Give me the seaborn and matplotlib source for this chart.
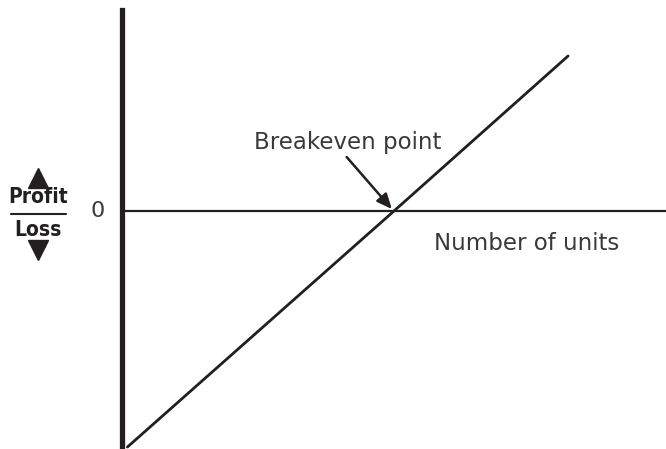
import matplotlib
matplotlib.use("Agg")
import matplotlib.pyplot as plt
import seaborn as sns
import pandas as pd
from matplotlib.lines import Line2D

# Data (arbitrary units: x = number of units, y = profit)
units = [1, 50, 82]
profit = [-236, 0, 155]
breakeven_x = 50
label_be = "Breakeven point"
label_x = "Number of units"
label_zero = "0"
label_profit = "Profit"
label_loss = "Loss"

sns.set_style("white")
plt.rcParams['font.family'] = ['DejaVu Sans']

W, H = 666, 449
fig = plt.figure(figsize=(W / 100, H / 100), dpi=100)
ax = fig.add_axes([122 / W, 0, 544 / W, 439 / H])
ax.set_xlim(0, 100)
ax.set_ylim(-238, 201)

df = pd.DataFrame({"units": units, "profit": profit})
sns.lineplot(data=df, x="units", y="profit", ax=ax, color="#231f20", linewidth=2.0)
ax.axhline(0, color="#231f20", linewidth=1.6)

for s in ["top", "right", "bottom"]:
    ax.spines[s].set_visible(False)
ax.spines["left"].set_linewidth(3.8)
ax.spines["left"].set_color("#231f20")
ax.set_xticks([])
ax.set_yticks([])
ax.set_xlabel("")
ax.set_ylabel("")

txt_color = "#3a3a3a"
ax.text(41.4, 68, label_be, ha="center", va="center", fontsize=16.5, color=txt_color)
ax.annotate("", xy=(breakeven_x - 0.4, 2), xytext=(41.3, 54),
            arrowprops=dict(arrowstyle="-|>,head_length=0.9,head_width=0.4",
                            color="#231f20", lw=1.8, shrinkA=0, shrinkB=0))
ax.text(74.4, -33, label_x, ha="center", va="center", fontsize=16.5, color=txt_color)

fig.text(98 / W, 1 - 211 / H, label_zero, ha="center", va="center", fontsize=16, color=txt_color)

cx = 38 / W
fig.text(cx, 1 - 197 / H, label_profit, ha="center", va="center", fontsize=15,
         fontweight="bold", fontstretch="condensed", color="#231f20")
fig.text(cx, 1 - 230 / H, label_loss, ha="center", va="center", fontsize=15,
         fontweight="bold", fontstretch="condensed", color="#231f20")
fig.add_artist(Line2D([11 / W, 66 / W], [1 - 214 / H, 1 - 214 / H], color="#231f20",
                      linewidth=1.5, transform=fig.transFigure))
fig.add_artist(Line2D([cx], [1 - 178 / H], marker="^", markersize=14, color="#231f20",
                      linestyle="none", transform=fig.transFigure))
fig.add_artist(Line2D([cx], [1 - 250 / H], marker="v", markersize=14, color="#231f20",
                      linestyle="none", transform=fig.transFigure))

fig.savefig("out.png", dpi=100)
